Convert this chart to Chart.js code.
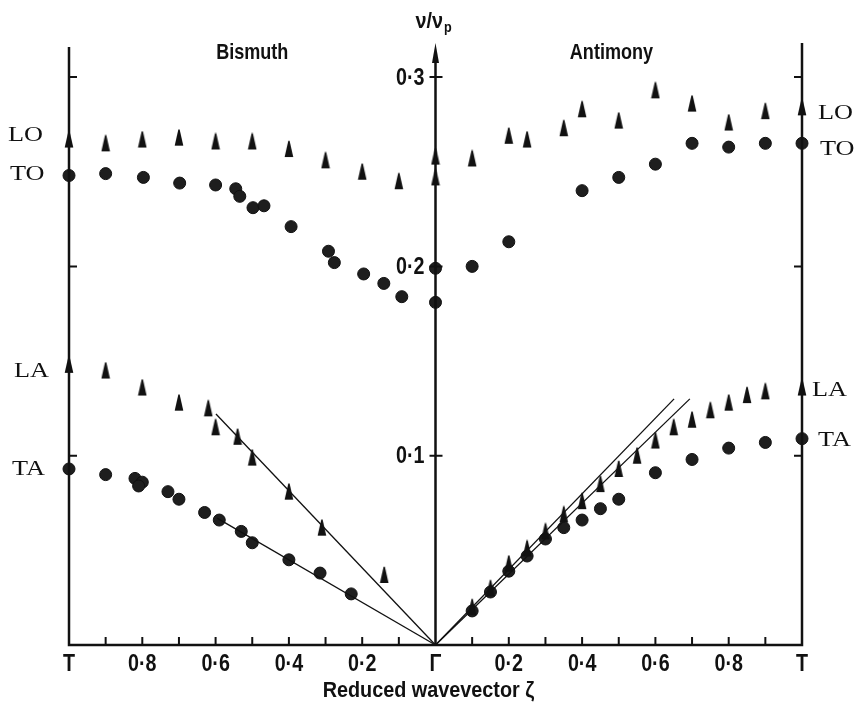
<!DOCTYPE html>
<html>
<head>
<meta charset="utf-8">
<title>Phonon dispersion – Bismuth and Antimony</title>
<script src="https://cdn.jsdelivr.net/npm/chart.js@4.4.1/dist/chart.umd.min.js"></script>
<style>
  html, body { margin: 0; padding: 0; background: #fff; }
  #chart { display: block; }
</style>
</head>
<body>
<canvas id="chart" width="856" height="714"></canvas>
<script>
// Bottom axis: reduced wavevector, Bismuth on the negative side, Antimony on the positive side
const zetaTicks = [-1, -0.8, -0.6, -0.4, -0.2, 0, 0.2, 0.4, 0.6, 0.8, 1];
const zetaTickLabels = ['T', '0·8', '0·6', '0·4', '0·2', 'Γ', '0·2', '0·4', '0·6', '0·8', 'T'];
const zetaTickMarks = [-0.9, -0.8, -0.7, -0.6, -0.5, -0.4, -0.3, -0.2, -0.1,
                       0.1, 0.2, 0.3, 0.4, 0.5, 0.6, 0.7, 0.8, 0.9];
const nuTicks = [0.1, 0.2, 0.3];
const nuTickLabels = ['0·1', '0·2', '0·3'];

// Bismuth (ζ measured from Γ)
const biLOZeta = [1.0, 0.9, 0.8, 0.7, 0.6, 0.5, 0.4, 0.3, 0.2, 0.1, 0];
const biLONu   = [0.267, 0.265, 0.267, 0.268, 0.266, 0.266, 0.262, 0.256, 0.250, 0.245, 0.247];
const biTOZeta = [1.0, 0.9, 0.797, 0.698, 0.6, 0.545, 0.534, 0.498, 0.468, 0.394, 0.292, 0.276, 0.196, 0.141, 0.092, 0];
const biTONu   = [0.248, 0.249, 0.247, 0.244, 0.243, 0.241, 0.237, 0.231, 0.232, 0.221, 0.208, 0.202, 0.196, 0.191, 0.184, 0.181];
const biLAZeta = [1.0, 0.9, 0.8, 0.7, 0.62, 0.6, 0.54, 0.5, 0.4, 0.31, 0.14];
const biLANu   = [0.148, 0.145, 0.136, 0.128, 0.125, 0.115, 0.110, 0.099, 0.081, 0.062, 0.037];
const biTAZeta = [1.0, 0.9, 0.82, 0.80, 0.81, 0.73, 0.70, 0.63, 0.59, 0.53, 0.50, 0.40, 0.315, 0.23];
const biTANu   = [0.093, 0.090, 0.088, 0.086, 0.084, 0.081, 0.077, 0.070, 0.066, 0.060, 0.054, 0.045, 0.038, 0.027];
const biFitLAZeta = [0, 0.599];
const biFitLANu   = [0, 0.122];
const biFitTAZeta = [0, 0.596];
const biFitTANu   = [0, 0.067];

// Antimony
const sbLOZeta = [0, 0.1, 0.2, 0.25, 0.35, 0.4, 0.5, 0.6, 0.7, 0.8, 0.9, 1.0];
const sbLONu   = [0.258, 0.257, 0.269, 0.267, 0.273, 0.283, 0.277, 0.293, 0.286, 0.276, 0.282, 0.284];
const sbTOZeta = [0, 0.1, 0.2, 0.4, 0.5, 0.6, 0.7, 0.8, 0.9, 1.0];
const sbTONu   = [0.199, 0.200, 0.213, 0.240, 0.247, 0.254, 0.265, 0.263, 0.265, 0.265];
const sbLAZeta = [0.1, 0.15, 0.2, 0.25, 0.3, 0.35, 0.4, 0.45, 0.5, 0.55, 0.6, 0.65, 0.7, 0.75, 0.8, 0.85, 0.9, 1.0];
const sbLANu   = [0.020, 0.030, 0.043, 0.051, 0.060, 0.069, 0.076, 0.085, 0.093, 0.100, 0.108, 0.115, 0.119, 0.124, 0.128, 0.132, 0.134, 0.136];
const sbTAZeta = [0.1, 0.15, 0.2, 0.25, 0.3, 0.35, 0.4, 0.45, 0.5, 0.6, 0.7, 0.8, 0.9, 1.0];
const sbTANu   = [0.018, 0.028, 0.039, 0.047, 0.056, 0.062, 0.066, 0.072, 0.077, 0.091, 0.098, 0.104, 0.107, 0.109];
const sbFitAZeta = [0, 0.651];
const sbFitANu   = [0, 0.130];
const sbFitBZeta = [0, 0.694];
const sbFitBNu   = [0, 0.130];

const SANS = "'Liberation Sans', Arial, sans-serif";
const SERIF = "'Liberation Serif', 'DejaVu Serif', serif";
const INK = '#111';

// Tall narrow triangle used for the longitudinal/optic markers
function makeSpike() {
    const c = document.createElement('canvas');
    c.width = 10;
    c.height = 18;
    const g = c.getContext('2d');
    g.fillStyle = INK;
    g.beginPath();
    g.moveTo(4.3, 1);
    g.quadraticCurveTo(5, 0, 5.7, 1);
    g.lineTo(9.3, 17);
    g.lineTo(0.7, 17);
    g.closePath();
    g.fill();
    return c;
}
const spike = makeSpike();

// sign = -1 puts Bismuth on the left half
function pts(zeta, nu, sign) {
    return zeta.map((z, i) => ({ x: sign * z, y: nu[i] }));
}

function fitLine(zeta, nu, sign) {
    return {
        data: pts(zeta, nu, sign),
        showLine: true,
        pointRadius: 0,
        borderColor: INK,
        borderWidth: 1.3,
        clip: false
    };
}

function triangles(zeta, nu, sign) {
    return {
        data: pts(zeta, nu, sign),
        pointStyle: spike,
        pointRadius: 8,
        clip: false
    };
}

function circles(zeta, nu, sign) {
    return {
        data: pts(zeta, nu, sign),
        pointStyle: 'circle',
        pointRadius: 6,
        pointBackgroundColor: '#1e1e1e',
        pointBorderColor: INK,
        pointBorderWidth: 1,
        clip: false
    };
}

const datasets = [
    fitLine(biFitLAZeta, biFitLANu, -1),
    fitLine(biFitTAZeta, biFitTANu, -1),
    fitLine(sbFitAZeta, sbFitANu, 1),
    fitLine(sbFitBZeta, sbFitBNu, 1),
    triangles(biLOZeta, biLONu, -1),
    circles(biTOZeta, biTONu, -1),
    triangles(biLAZeta, biLANu, -1),
    circles(biTAZeta, biTANu, -1),
    triangles(sbLOZeta, sbLONu, 1),
    circles(sbTOZeta, sbTONu, 1),
    triangles(sbLAZeta, sbLANu, 1),
    circles(sbTAZeta, sbTANu, 1)
];

// Branch names at the zone boundary, placed beside the end points
const branchLabels = [
    { text: 'LO', nu: biLONu[0], side: 'left', dx: 8, dy: -4 },
    { text: 'TO', nu: biTONu[0], side: 'left', dx: 10, dy: -1 },
    { text: 'LA', nu: biLANu[0], side: 'left', dx: 14, dy: 7 },
    { text: 'TA', nu: biTANu[0], side: 'left', dx: 12, dy: 1 },
    { text: 'LO', nu: sbLONu[sbLONu.length - 1], side: 'right', dx: 16, dy: 6 },
    { text: 'TO', nu: sbTONu[sbTONu.length - 1], side: 'right', dx: 18, dy: 6 },
    { text: 'LA', nu: sbLANu[sbLANu.length - 1], side: 'right', dx: 10, dy: 3 },
    { text: 'TA', nu: sbTANu[sbTANu.length - 1], side: 'right', dx: 16, dy: 2 }
];

// Text squeezed or stretched horizontally by sx
function drawText(ctx, text, x, y, font, sx, align) {
    ctx.save();
    ctx.font = font;
    ctx.textAlign = align;
    ctx.textBaseline = 'middle';
    ctx.translate(x, y);
    ctx.scale(sx, 1);
    ctx.fillText(text, 0, 0);
    ctx.restore();
}

// Axes frame, ticks and the annotations
const frame = {
    id: 'frame',
    afterDatasetsDraw(chart) {
        const { ctx, chartArea } = chart;
        const xs = chart.scales.x;
        const ys = chart.scales.y;
        const xl = xs.getPixelForValue(-1);
        const xc = xs.getPixelForValue(0);
        const xr = xs.getPixelForValue(1);
        const y0 = ys.getPixelForValue(0);
        const top = chartArea.top;

        ctx.save();
        ctx.strokeStyle = INK;
        ctx.fillStyle = INK;
        ctx.lineWidth = 2.5;
        ctx.beginPath();
        ctx.moveTo(xl, top + 4);
        ctx.lineTo(xl, y0);
        ctx.lineTo(xr, y0);
        ctx.lineTo(xr, top);
        ctx.moveTo(xc, y0);
        ctx.lineTo(xc, top + 12);
        ctx.stroke();

        // arrow head on the ν axis
        ctx.beginPath();
        ctx.moveTo(xc, top);
        ctx.lineTo(xc + 3.5, top + 20);
        ctx.lineTo(xc - 3.5, top + 20);
        ctx.closePath();
        ctx.fill();

        ctx.lineWidth = 2;
        ctx.beginPath();
        zetaTickMarks.forEach(z => {
            const px = xs.getPixelForValue(z);
            ctx.moveTo(px, y0);
            ctx.lineTo(px, y0 - 8);
        });
        nuTicks.forEach(v => {
            const py = ys.getPixelForValue(v);
            ctx.moveTo(xl, py);
            ctx.lineTo(xl + 8, py);
            ctx.moveTo(xr, py);
            ctx.lineTo(xr - 8, py);
            ctx.moveTo(xc - 6, py);
            ctx.lineTo(xc + 7, py);
        });
        ctx.stroke();

        // tick labels
        const tickFont = 'bold 24px ' + SANS;
        zetaTicks.forEach((z, i) => {
            drawText(ctx, zetaTickLabels[i], xs.getPixelForValue(z), y0 + 19, tickFont, 0.82, 'center');
        });
        nuTicks.forEach((v, i) => {
            drawText(ctx, nuTickLabels[i], xc - 11, ys.getPixelForValue(v) + 1, tickFont, 0.82, 'right');
        });

        // titles
        const titleFont = 'bold 22px ' + SANS;
        drawText(ctx, 'Bismuth', xs.getPixelForValue(-0.5), 53, titleFont, 0.82, 'center');
        drawText(ctx, 'Antimony', xs.getPixelForValue(0.48), 53, titleFont, 0.82, 'center');
        drawText(ctx, 'Reduced wavevector ζ', xc - 7, 691, titleFont, 0.9, 'center');

        // ν/νp heading over the central axis
        ctx.font = 'bold 22px ' + SANS;
        const hw = ctx.measureText('ν/ν').width * 0.9;
        const hx = xc - 20;
        drawText(ctx, 'ν/ν', hx, 22, 'bold 22px ' + SANS, 0.9, 'left');
        drawText(ctx, 'p', hx + hw + 1, 28, 'bold 14px ' + SANS, 0.9, 'left');

        // branch names
        branchLabels.forEach(l => {
            const py = ys.getPixelForValue(l.nu) + l.dy;
            const px = l.side === 'left' ? l.dx : xr + l.dx;
            drawText(ctx, l.text, px, py, '21px ' + SERIF, 1.25, 'left');
        });
        ctx.restore();
    }
};

new Chart(document.getElementById('chart').getContext('2d'), {
    type: 'scatter',
    data: { datasets },
    options: {
        responsive: false,
        animation: false,
        devicePixelRatio: 1,
        layout: { padding: { left: 69, right: 54, top: 43, bottom: 0 } },
        plugins: {
            legend: { display: false },
            tooltip: { enabled: false }
        },
        scales: {
            x: {
                type: 'linear',
                min: -1,
                max: 1,
                position: 'bottom',
                afterBuildTicks: s => { s.ticks = zetaTicks.map(v => ({ value: v })); },
                afterFit: s => { s.height = 69; },
                grid: { display: false },
                border: { display: false },
                ticks: { display: false }
            },
            y: {
                type: 'linear',
                min: 0,
                max: 0.318,
                position: { x: 0 },
                afterBuildTicks: s => { s.ticks = nuTicks.map(v => ({ value: v })); },
                grid: { display: false },
                border: { display: false },
                ticks: { display: false }
            }
        }
    },
    plugins: [frame]
});
</script>
</body>
</html>
